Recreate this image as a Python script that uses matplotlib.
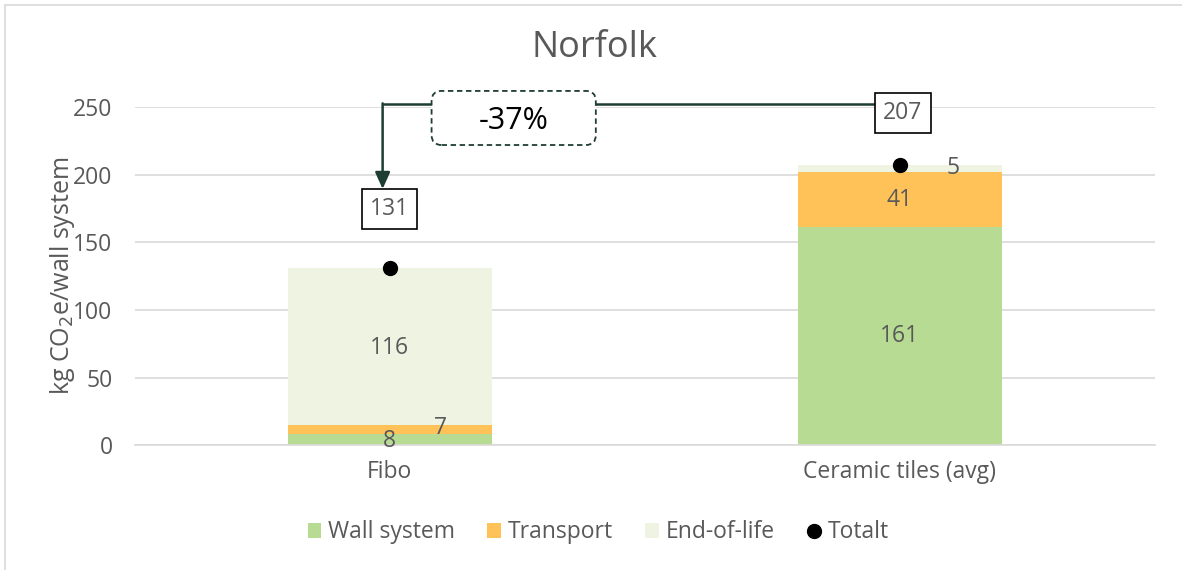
import matplotlib.pyplot as plt
from matplotlib.patches import Rectangle, FancyBboxPatch
import numpy as np

plt.rcParams["font.family"] = ["Open Sans", "DejaVu Sans"]

# ---- data ----
categories = ["Fibo", "Ceramic tiles (avg)"]
wall_system = [8, 161]
transport = [7, 41]
end_of_life = [116, 5]
totals = [131, 207]
change_label = "-37%"

series_names = ["Wall system", "Transport", "End-of-life"]
colors = ["#B7DB93", "#FFC259", "#EFF3E2"]
TEXT = "#595959"
GRID = "#D9D9D9"
ARROW = "#1E3D33"
FS = 16.5

fig = plt.figure(figsize=(11.82, 5.70), dpi=100)
ax = fig.add_axes([0.114, 0.219, 0.863, 0.593])

# outer chart border (only top and left edges fall inside the image)
fig.patches.append(Rectangle((0.004, -0.1), 1.2, 1.092, transform=fig.transFigure,
                             fill=False, edgecolor=GRID, linewidth=1.2))

x = np.arange(len(categories))
width = 0.4
bottom = np.zeros(len(categories))
for vals, name, col in zip([wall_system, transport, end_of_life], series_names, colors):
    ax.bar(x, vals, width, bottom=bottom, color=col, label=name, zorder=2)
    bottom += np.array(vals)

ax.plot(x, totals, "o", color="black", markersize=10, label="Totalt", zorder=4)

# segment labels
lab_kw = dict(ha="center", va="center", fontsize=FS, color=TEXT, zorder=5)
ax.text(x[0], wall_system[0] / 2 - 1, str(wall_system[0]), **lab_kw)
ax.text(x[0] + 0.1, wall_system[0] + transport[0] / 2 + 1.5, str(transport[0]), **lab_kw)
ax.text(x[0], wall_system[0] + transport[0] + end_of_life[0] / 2 - 1, str(end_of_life[0]), **lab_kw)
ax.text(x[1], wall_system[1] / 2, str(wall_system[1]), **lab_kw)
ax.text(x[1], wall_system[1] + transport[1] / 2, str(transport[1]), **lab_kw)
ax.text(x[1] + 0.105, totals[1] - 2, str(end_of_life[1]), **lab_kw)

# total boxes
box_kw = dict(ha="center", va="center", fontsize=FS, color=TEXT, zorder=6,
              bbox=dict(boxstyle="square,pad=0.35", fc="white", ec="black", lw=1.2))
ax.text(x[0], 175, str(totals[0]), clip_on=False, **box_kw)
ax.text(x[1] + 0.006, 245.5, str(totals[1]), clip_on=False, **box_kw)

# connector line and arrow
ax.plot([x[0] - 0.014, x[1] - 0.047], [252, 252], color=ARROW, lw=1.8,
        clip_on=False, zorder=5)
ax.annotate("", xy=(x[0] - 0.014, 189.5), xytext=(x[0] - 0.014, 252.8),
            arrowprops=dict(arrowstyle="-|>,head_length=1.0,head_width=0.45",
                            color=ARROW, lw=1.8, shrinkA=0, shrinkB=0),
            annotation_clip=False, zorder=5)

# dashed rounded box for the change
px_x = 2 / (0.863 * 1182)          # x data units per pixel
px_y = 250 / (0.593 * 570)         # y data units per pixel
box = FancyBboxPatch((0.082, 222), 0.322, 40,
                     boxstyle=f"round,pad=0,rounding_size={10 * px_x}",
                     mutation_aspect=px_y / px_x, transform=ax.transData,
                     fc="white", ec=ARROW, lw=1.3, ls=(0, (3, 2)),
                     clip_on=False, zorder=6)
ax.add_patch(box)
ax.text(0.243, 240, change_label, ha="center", va="center", fontsize=22,
        color="black", zorder=7, clip_on=False)

ax.set_xlim(-0.5, 1.5)
ax.set_ylim(0, 250)
ax.set_yticks(np.arange(0, 251, 50))
ax.set_xticks(x)
ax.set_xticklabels(categories)
ax.grid(axis="y", color=GRID, lw=1.2, zorder=0)
ax.set_axisbelow(True)
for s in ["top", "right", "left"]:
    ax.spines[s].set_visible(False)
ax.spines["bottom"].set_color(GRID)
ax.spines["bottom"].set_linewidth(1.2)
ax.tick_params(axis="both", length=0, labelsize=FS, labelcolor=TEXT)
ax.tick_params(axis="y", pad=16)
ax.tick_params(axis="x", pad=11)

ax.set_ylabel("kg CO$_2$e/wall system", fontsize=18, color=TEXT)
ax.yaxis.set_label_coords(-0.057, 0.5)
fig.text(0.503, 0.915, "Norfolk", ha="center", va="center", fontsize=26, color=TEXT)

handles, labels = ax.get_legend_handles_labels()
order = [1, 2, 3, 0]
leg = fig.legend([handles[i] for i in order], [labels[i] for i in order],
                 loc="center", bbox_to_anchor=(0.506, 0.066), ncol=4, frameon=False,
                 fontsize=FS, handlelength=0.6, handleheight=0.6, handletextpad=0.3,
                 columnspacing=1.4, labelcolor=TEXT)

fig.savefig("out.png", dpi=100)
